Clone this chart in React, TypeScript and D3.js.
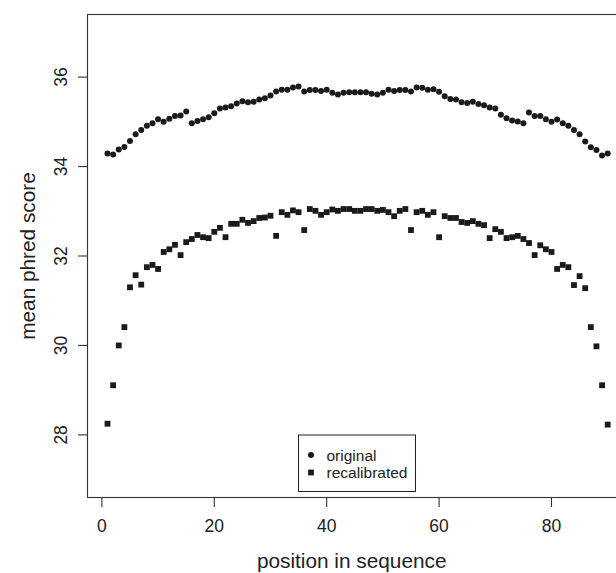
import React from "react";
import * as d3 from "d3";

const positions: number[] = Array.from({ length: 90 }, (_, i) => i + 1);

const original: number[] = [
  34.29, 34.27, 34.38, 34.44, 34.57, 34.72, 34.82, 34.91, 34.97, 35.06,
  35.0, 35.07, 35.13, 35.14, 35.23, 34.97, 35.02, 35.06, 35.1, 35.19,
  35.3, 35.32, 35.35, 35.41, 35.46, 35.44, 35.45, 35.5, 35.53, 35.59,
  35.68, 35.72, 35.72, 35.77, 35.79, 35.68, 35.71, 35.71, 35.69, 35.72,
  35.65, 35.61, 35.65, 35.66, 35.66, 35.66, 35.66, 35.63, 35.61, 35.65,
  35.72, 35.69, 35.71, 35.71, 35.68, 35.77, 35.76, 35.72, 35.73, 35.67,
  35.57, 35.51, 35.5, 35.44, 35.42, 35.45, 35.4, 35.37, 35.32, 35.3,
  35.16, 35.08, 35.03, 35.01, 34.97, 35.21, 35.13, 35.13, 35.06, 35.0,
  35.05, 34.97, 34.91, 34.82, 34.72, 34.56, 34.43, 34.37, 34.25, 34.29,
];

const recalibrated: number[] = [
  28.25, 29.11, 30.0, 30.41, 31.3, 31.57, 31.36, 31.75, 31.8, 31.71,
  32.09, 32.15, 32.25, 32.02, 32.31, 32.38, 32.47, 32.42, 32.4, 32.54,
  32.63, 32.42, 32.72, 32.72, 32.81, 32.74, 32.78, 32.85, 32.86, 32.9,
  32.45, 32.98, 32.92, 33.02, 32.98, 32.58, 33.05, 33.01, 32.92, 32.98,
  33.04, 33.01, 33.05, 33.05, 33.01, 33.01, 33.05, 33.05, 33.01, 33.03,
  32.98, 32.89, 33.01, 33.05, 32.58, 32.98, 33.01, 32.92, 32.98, 32.42,
  32.89, 32.85, 32.85, 32.76, 32.74, 32.78, 32.72, 32.69, 32.4, 32.6,
  32.54, 32.4, 32.42, 32.45, 32.38, 32.29, 32.02, 32.24, 32.15, 32.09,
  31.71, 31.8, 31.75, 31.35, 31.55, 31.28, 30.41, 29.98, 29.11, 28.23,
];

const xTicks: number[] = [0, 20, 40, 60, 80];
const yTicks: number[] = [28, 30, 32, 34, 36];
const legendLabels: string[] = ["original", "recalibrated"];
const xTitle = "position in sequence";
const yTitle = "mean phred score";

const W = 616;
const H = 573;
const FONT = "'Liberation Sans', Arial, Helvetica, sans-serif";
const INK = "#1a1a1a";
const TEXT = "#222";

export default function App() {
  const x = d3.scaleLinear().domain([-2.56, 93.56]).range([87.5, 627.7]);
  const y = d3.scaleLinear().domain([26.6, 37.4]).range([497.5, 14.5]);
  const [x0, x1] = x.range();
  const [yb, yt] = y.range();
  const r = 3.0;
  const s = 5.8;

  return (
    <svg
      width={W}
      height={H}
      style={{ position: "absolute", left: 0, top: 0, display: "block", background: "#fff" }}
      fontFamily={FONT}
    >
      <rect x={0} y={0} width={W} height={H} fill="#fff" />
      {/* plot box */}
      <rect x={x0} y={yt} width={x1 - x0} height={yb - yt} fill="none" stroke="#333" strokeWidth={1.1} />

      {/* x axis ticks */}
      {xTicks.map((t) => (
        <g key={"xt" + t}>
          <line x1={x(t)} x2={x(t)} y1={yb} y2={yb + 9.5} stroke="#333" strokeWidth={1.1} />
          <text x={x(t)} y={532} textAnchor="middle" fontSize={17.5} fill={TEXT}>
            {t}
          </text>
        </g>
      ))}
      {/* y axis ticks */}
      {yTicks.map((t) => (
        <g key={"yt" + t}>
          <line x1={x0 - 9.5} x2={x0} y1={y(t)} y2={y(t)} stroke="#333" strokeWidth={1.1} />
          <text
            transform={`translate(67,${y(t)}) rotate(-90)`}
            textAnchor="middle"
            fontSize={17.5}
            fill={TEXT}
          >
            {t}
          </text>
        </g>
      ))}

      {/* axis titles */}
      <text x={(x(0) + x(80)) / 2 + 25} y={568} textAnchor="middle" fontSize={20.8} fill={TEXT}>
        {xTitle}
      </text>
      <text
        transform={`translate(34.5,${(yt + yb) / 2}) rotate(-90)`}
        textAnchor="middle"
        fontSize={20.8}
        fill={TEXT}
      >
        {yTitle}
      </text>

      {/* points */}
      {positions.map((p, i) => (
        <circle key={"o" + p} cx={x(p)} cy={y(original[i])} r={r} fill={INK} />
      ))}
      {positions.map((p, i) => (
        <rect key={"r" + p} x={x(p) - s / 2} y={y(recalibrated[i]) - s / 2} width={s} height={s} fill={INK} />
      ))}

      {/* legend */}
      <rect x={298.5} y={435} width={117} height={56.5} fill="#fff" stroke="#222" strokeWidth={1} />
      <circle cx={311} cy={455} r={r} fill={INK} />
      <rect x={311 - s / 2} y={472.5 - s / 2} width={s} height={s} fill={INK} />
      <text x={326.5} y={460.5} fontSize={15.5} fill={TEXT}>
        {legendLabels[0]}
      </text>
      <text x={326.5} y={478} fontSize={15.5} fill={TEXT}>
        {legendLabels[1]}
      </text>
    </svg>
  );
}
